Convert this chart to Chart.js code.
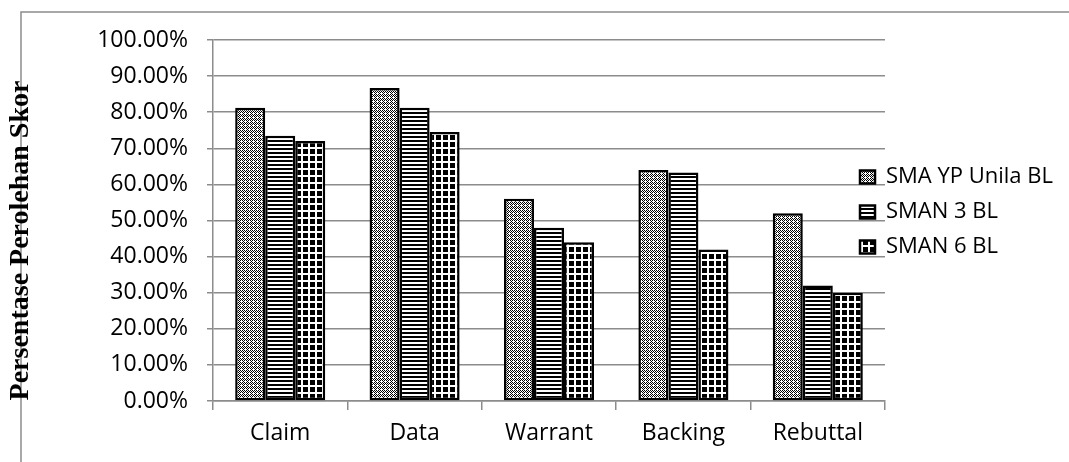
<!DOCTYPE html>
<html>
<head>
<meta charset="utf-8">
<script src="https://cdn.jsdelivr.net/npm/chart.js@4.4.1/dist/chart.umd.min.js"></script>
<style>
  html, body { margin: 0; padding: 0; background: #ffffff; }
  #wrap { width: 1069px; height: 462px; position: relative; }
</style>
</head>
<body>
<div id="wrap"><canvas id="c" width="1069" height="462"></canvas></div>
<script>
// Toulmin argument components (categories)
const categories = ['Claim', 'Data', 'Warrant', 'Backing', 'Rebuttal'];

// Score percentage per school
const smaYpUnila = [81.25, 86.7, 56.0, 64.0, 52.0];
const sman3 = [73.5, 81.25, 48.0, 63.3, 32.0];
const sman6 = [72.0, 74.5, 44.0, 42.0, 30.0];

const seriesNames = ['SMA YP Unila BL', 'SMAN 3 BL', 'SMAN 6 BL'];

// Y axis tick values (percent)
const yTicks = [0, 10, 20, 30, 40, 50, 60, 70, 80, 90, 100];

const yTitle = 'Persentase Perolehan Skor';

const canvas = document.getElementById('c');
const ctx = canvas.getContext('2d');

// Monochrome hatch fills
function makePattern(size, paint) {
  const tile = document.createElement('canvas');
  tile.width = size; tile.height = size;
  const g = tile.getContext('2d');
  paint(g, size);
  return ctx.createPattern(tile, 'repeat');
}

// Dotted checker with small white crosses
const dotPattern = makePattern(4, (g) => {
  g.fillStyle = '#ffffff'; g.fillRect(0, 0, 4, 4);
  g.fillStyle = '#000000';
  for (let y = 0; y < 4; y++) {
    for (let x = 0; x < 4; x++) {
      if ((x + y) % 2 === 0 && !(x === 1 && y === 1)) g.fillRect(x, y, 1, 1);
    }
  }
});

// Horizontal stripes
const stripePattern = makePattern(4, (g) => {
  g.fillStyle = '#000000'; g.fillRect(0, 0, 4, 4);
  g.fillStyle = '#ffffff'; g.fillRect(0, 2, 4, 2);
});

// White grid on black
const gridPattern = makePattern(7, (g) => {
  g.fillStyle = '#000000'; g.fillRect(0, 0, 7, 7);
  g.fillStyle = '#ffffff';
  g.fillRect(0, 0, 7, 2);
  g.fillRect(0, 0, 2, 7);
});

const GRID_GRAY = '#8c8c8c';
const PLOT_LEFT = 213;
const PLOT_RIGHT = 885;
const PLOT_TOP = 40;
const PLOT_BOTTOM = 401;

// Outer frame and rotated axis caption
const framePlugin = {
  id: 'frame',
  beforeDraw(chart) {
    const c = chart.ctx;
    c.save();
    c.fillStyle = '#ffffff';
    c.fillRect(0, 0, chart.width, chart.height);
    c.strokeStyle = GRID_GRAY;
    c.lineWidth = 1.5;
    c.beginPath();
    c.moveTo(21, chart.height + 2);
    c.lineTo(21, 12);
    c.lineTo(chart.width + 2, 12);
    c.stroke();
    c.restore();
  },
  afterDraw(chart) {
    const c = chart.ctx;
    c.save();
    c.translate(28, 240.5);
    c.rotate(-Math.PI / 2);
    c.fillStyle = '#000000';
    c.font = 'bold 28px "Liberation Serif"';
    c.textAlign = 'center';
    c.textBaseline = 'alphabetic';
    c.fillText(yTitle, 0, 0);
    c.restore();
  }
};

// Legend sits at a fixed spot, overlapping the right edge of the grid
const legendPlacer = {
  id: 'legendPlacer',
  beforeUpdate(chart) {
    const lg = chart.legend;
    if (lg && !lg._fixedFit) {
      const fit = lg.fit;
      lg.fit = function () {
        fit.call(this);
        if (!this.isHorizontal()) this.width = chart.width - PLOT_RIGHT;
      };
      lg._fixedFit = true;
    }
  },
  afterLayout(chart) {
    const lg = chart.legend;
    lg.left = 847;
    lg.right = chart.width;
    lg.width = lg.right - lg.left;
    lg.top = 153;
    lg.height = lg.bottom - lg.top;
  }
};

const chart = new Chart(ctx, {
  type: 'bar',
  data: {
    labels: categories,
    datasets: [
      { label: seriesNames[0], data: smaYpUnila, backgroundColor: dotPattern },
      { label: seriesNames[1], data: sman3, backgroundColor: stripePattern },
      { label: seriesNames[2], data: sman6, backgroundColor: gridPattern }
    ].map(d => Object.assign(d, {
      borderColor: '#000000',
      borderWidth: 2.5,
      borderSkipped: false,
      categoryPercentage: 0.67,
      barPercentage: 1.0
    }))
  },
  options: {
    responsive: false,
    animation: false,
    devicePixelRatio: 1,
    layout: { padding: { top: PLOT_TOP, left: 0, right: 0, bottom: 0 } },
    plugins: {
      legend: {
        position: 'right',
        align: 'start',
        labels: {
          boxWidth: 15,
          boxHeight: 13,
          padding: 13,
          color: '#000000',
          font: { family: '"Open Sans"', size: 22 }
        }
      },
      tooltip: { enabled: false },
      title: { display: false }
    },
    scales: {
      x: {
        offset: true,
        grid: {
          offset: true,
          drawOnChartArea: false,
          drawTicks: true,
          tickLength: 9,
          color: GRID_GRAY,
          lineWidth: 1.5
        },
        border: { color: GRID_GRAY, width: 1.5 },
        ticks: {
          color: '#000000',
          padding: 10,
          maxRotation: 0,
          font: { family: '"Open Sans"', size: 23 }
        },
        afterFit(scale) { scale.height = 462 - PLOT_BOTTOM; }
      },
      y: {
        min: 0,
        max: 100,
        afterBuildTicks(scale) { scale.ticks = yTicks.map(v => ({ value: v })); },
        grid: {
          color: GRID_GRAY,
          lineWidth: 1.5,
          tickLength: 6
        },
        border: { color: GRID_GRAY, width: 1.5 },
        ticks: {
          color: '#000000',
          padding: 19,
          font: { family: '"Open Sans"', size: 23 },
          callback: (v) => v.toFixed(2) + '%'
        },
        afterFit(scale) { scale.width = PLOT_LEFT; }
      }
    }
  },
  plugins: [framePlugin, legendPlacer]
});
</script>
</body>
</html>
